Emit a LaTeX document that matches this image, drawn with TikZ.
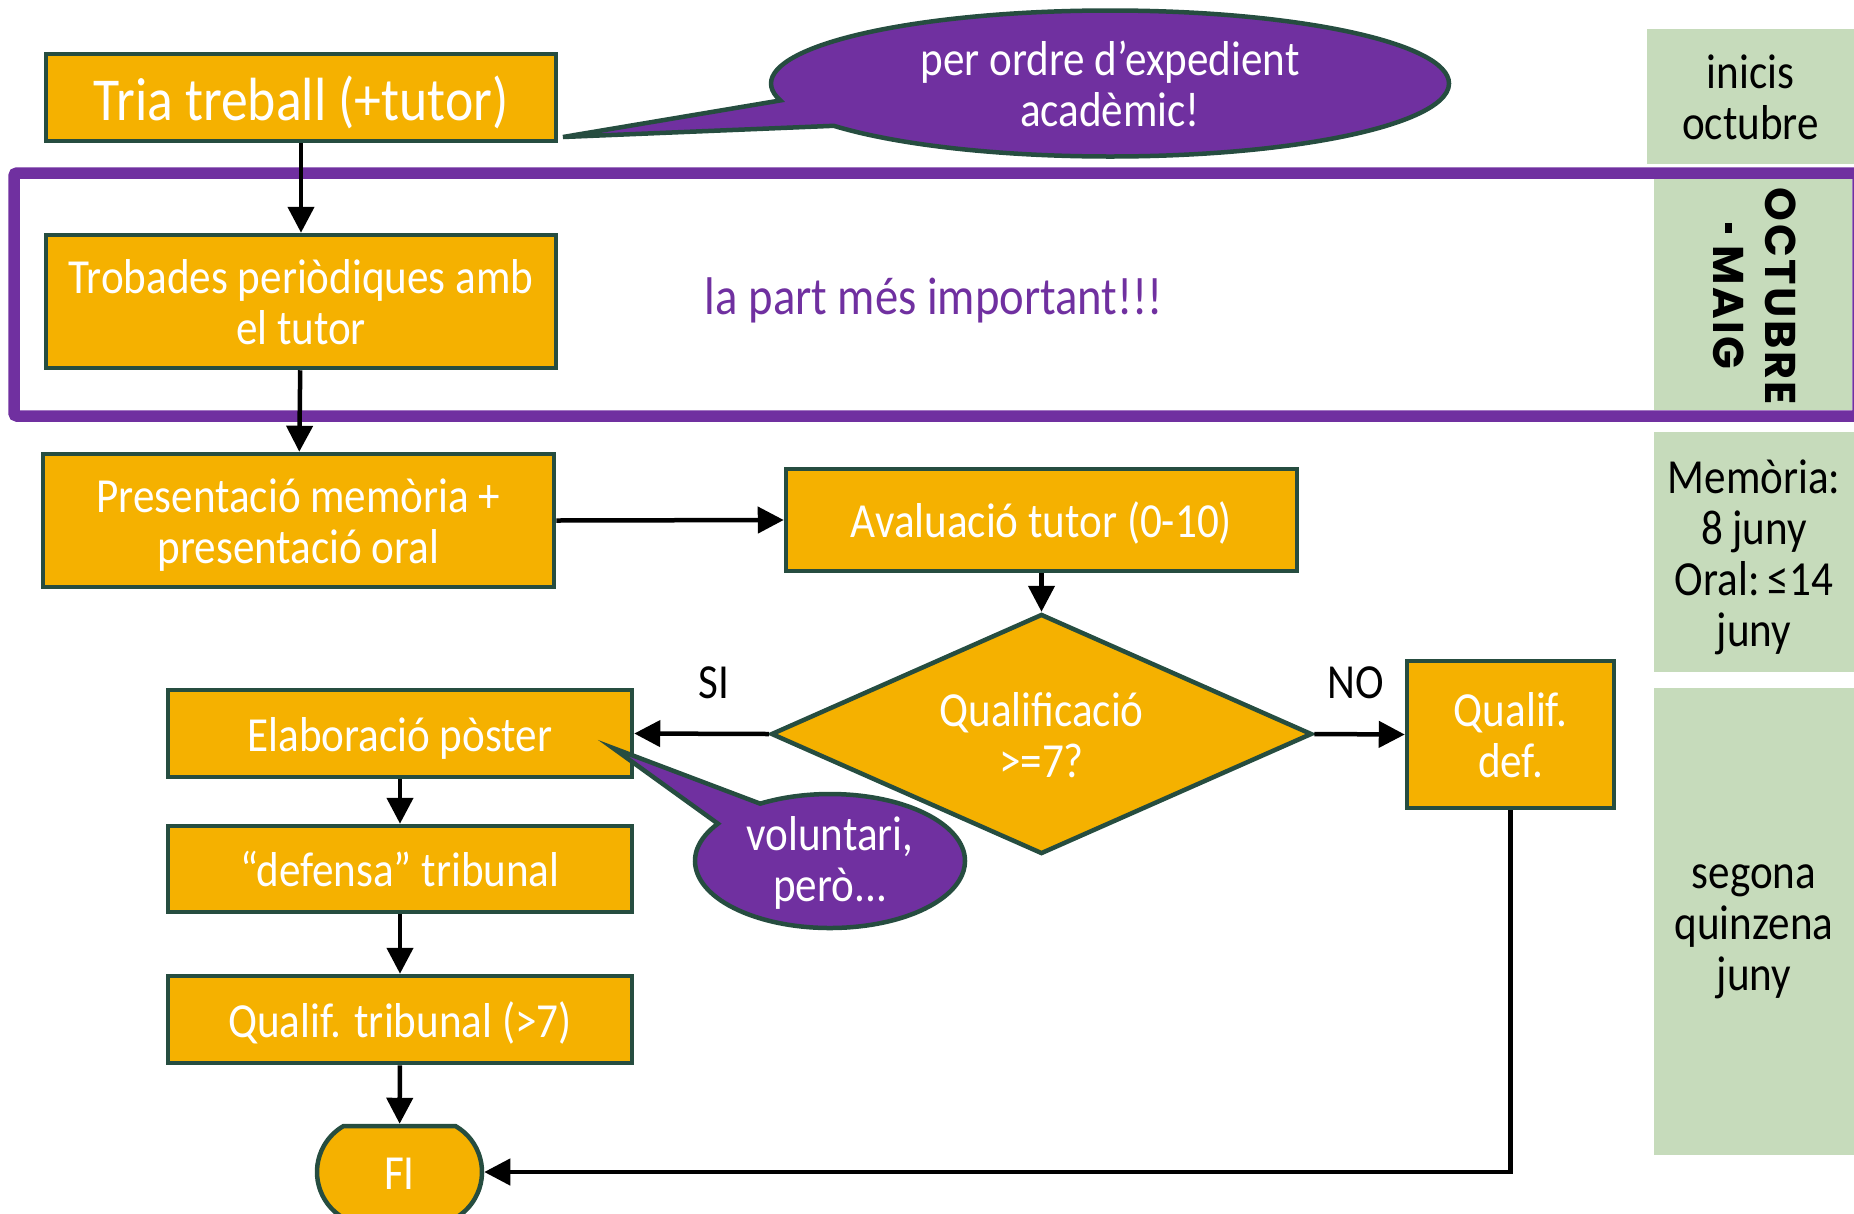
\documentclass[tikz,border=0pt]{standalone}
\usepackage{fontspec}
\setmainfont{Carlito}[FakeStretch=0.88]
\newfontfamily\geofont{Poppins}[LetterSpace=6]
\usetikzlibrary{shapes.geometric,shapes.misc,shapes.callouts,arrows.meta}
\definecolor{orng}{HTML}{F5B100}
\definecolor{bord}{HTML}{264D40}
\definecolor{purp}{HTML}{7030A0}
\definecolor{grn}{HTML}{C6DBBB}
\newcommand\hs{\rule{0pt}{48pt}}
\newcommand\ds{\rule[-13pt]{0pt}{0pt}}
\begin{document}
\begin{tikzpicture}[x=1pt,y=-1pt,
  box/.style={draw=bord, fill=orng, line width=4.5pt, text=white, align=center, inner sep=0pt,
    font=\fontsize{49}{51}\selectfont},
  gbox/.style={fill=grn, text=black, align=center, inner sep=0pt, font=\fontsize{49}{51}\selectfont},
  callbox/.style={ellipse callout, draw=bord, fill=purp, line width=4.5pt, text=white, align=center,
    inner sep=0pt, font=\fontsize{49}{51}\selectfont},
  conn/.style={line width=4.5pt, -{Triangle[length=26pt,width=26pt]}},
  lbl/.style={text=black, inner sep=0pt, font=\fontsize{49}{51}\selectfont}]
\useasboundingbox (0,0) rectangle (1854,1213);

% green timeline boxes
\node[gbox, minimum width=207pt, minimum height=135pt] (g1) at (1750.5,96.5) {\hs inicis\\octubre\ds};
\node[gbox, minimum width=198pt, minimum height=231pt] (g2) at (1753,294.5) {};
\node[rotate=-90, align=center, inner sep=0pt, font=\geofont\bfseries\fontsize{43}{52}\selectfont] (g2t) at ([xshift=2pt,yshift=-2pt]g2.center) {OCTUBRE\\\rule[11pt]{10pt}{7pt} MAIG};
\node[gbox, minimum width=200pt, minimum height=240pt] (g3) at (1754,552) {\hs Memòria:\\8 juny\\Oral:\,≤14\\juny\ds};
\node[gbox, minimum width=200pt, minimum height=467pt] (g4) at (1754,921.5) {\hs segona\\quinzena\\juny\ds};

% purple frame
\draw[purp, line width=11.5pt, rounded corners=3pt] (14,173) rectangle (1858,416);
\node[text=purp, inner sep=0pt, font=\fontsize{53}{60}\selectfont] (imp) at (934,300) {la part més important!!!};

% boxes
\node[box, minimum width=510pt, minimum height=87pt, font=\fontsize{61}{64}\selectfont] (tria) at (301,97.5) {\rule{0pt}{57pt}Tria treball (+tutor)\rule[-12pt]{0pt}{0pt}};
\node[box, minimum width=510pt, minimum height=133pt] (trob) at (301,301.5) {\hs Trobades periòdiques amb\\el tutor\ds};
\node[box, minimum width=511pt, minimum height=133pt] (pres) at (298.5,520.5) {\hs Presentació memòria +\\presentació oral\ds};
\node[box, minimum width=511pt, minimum height=102pt] (aval) at (1041.5,520) {\hs Avaluació tutor (0-10)\ds};
\node[box, diamond, aspect=2.25, minimum width=541pt, minimum height=240pt] (dia) at (1041.5,734) {\hs Qualificació\\>=7?\ds};
\node[box, minimum width=464pt, minimum height=87pt] (elab) at (400,733.5) {\hs Elaboració pòster\ds};
\node[box, minimum width=464pt, minimum height=86pt] (def) at (400,869) {\hs “defensa” tribunal\ds};
\node[box, minimum width=464pt, minimum height=87pt] (qtrib) at (400,1019.5) {\hs Qualif. tribunal (>7)\ds};
\node[box, rounded rectangle, rounded rectangle arc length=120, minimum width=165pt, minimum height=92pt] (fi) at (399.5,1172) {\hs FI\ds};
\node[box, minimum width=207pt, minimum height=147pt] (qdef) at (1510.5,734.5) {\hs Qualif.\\def.\ds};

% labels
\node[lbl] (si) at (714,683) {SI};
\node[lbl] (no) at (1356,683) {NO};

% connectors
\draw[conn] (tria) -- (trob);
\draw[conn] (trob) -- (pres);
\draw[conn] (pres.east) -- (aval.west);
\draw[conn] (aval) -- (dia);
\draw[conn] (dia.west) -- (elab.east);
\draw[conn] (dia.east) -- (qdef.west);
\draw[conn] (elab) -- (def);
\draw[conn] (def) -- (qtrib);
\draw[conn] (qtrib) -- (fi);
\draw[conn] (qdef.south) |- (fi.east);

% callouts
\coordinate (tip1) at (563,137);
\coordinate (tip2) at (613,748);
\node[callbox, minimum width=678pt, minimum height=146pt, callout absolute pointer={(tip1)}, callout pointer arc=22] (c1) at (1110,83.5) {per ordre d’expedient\\acadèmic!};
\node[callbox, minimum width=270pt, minimum height=134pt, callout absolute pointer={(tip2)}, callout pointer arc=25] (c2) at (830,861) {voluntari,\\\raisebox{0pt}[\height][5pt]{però...}};
\end{tikzpicture}
\end{document}
